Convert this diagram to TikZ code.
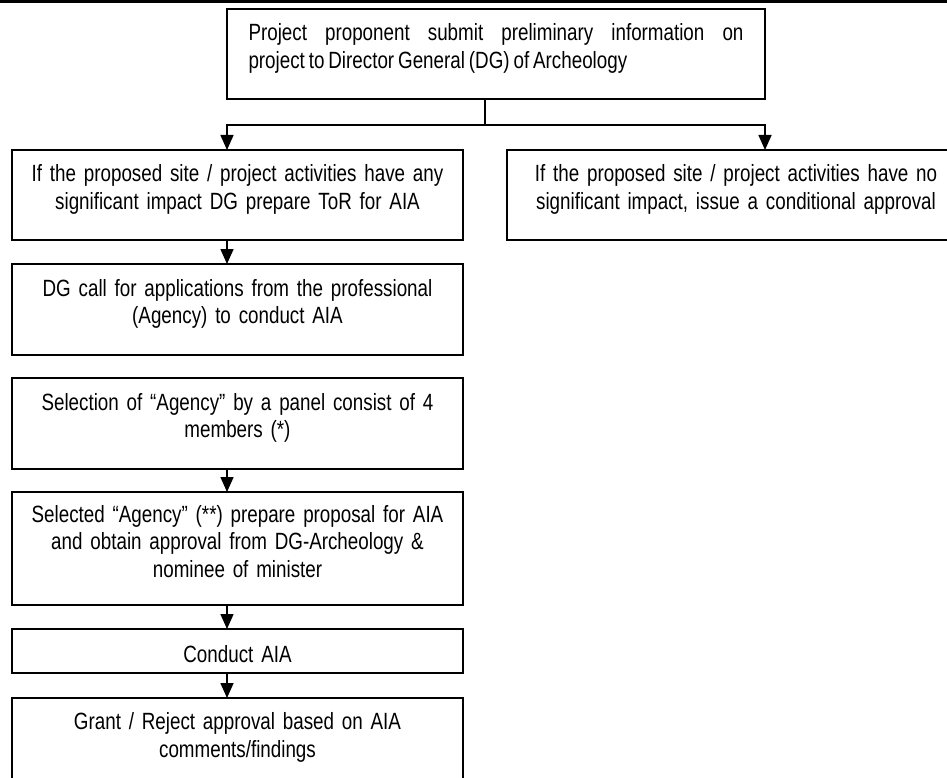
\documentclass[tikz,border=0pt]{standalone}
\usepackage{fontspec}
\setmainfont[FakeStretch=0.80, WordSpace=0.75]{Liberation Sans}
\usetikzlibrary{positioning,arrows.meta}

\begin{document}
\begin{tikzpicture}[
  x=1pt, y=-1pt,
  box/.style={draw, line width=1.8pt, inner sep=0pt, outer sep=0pt,
              minimum width=451pt, text width=440pt, align=center,
              font=\fontsize{23.5}{27.5}\selectfont},
  twolines/.style={text depth=44pt},
  threelines/.style={text depth=70pt},
  >={Triangle[length=15pt, width=13pt]},
  line width=1.6pt
]
  \useasboundingbox (0,0) rectangle (947,778);
  \draw[line width=3pt] (0,1.5) -- (947,1.5);

  \node[box, twolines, anchor=north west, minimum width=538pt, minimum height=90pt,
        text width=495pt, align=justify] (submit) at (227,9)
    {Project proponent submit preliminary information on\linebreak project to Director General (DG) of Archeology};

  \node[box, twolines, anchor=north west, minimum height=90pt] (ifsig) at (12,150)
    {If the proposed site / project activities have any\\significant impact DG prepare ToR for AIA};
  \node[box, twolines, right=44pt of ifsig, minimum width=458pt, minimum height=90pt] (nosig)
    {If the proposed site / project activities have no\\significant impact, issue a conditional approval};

  \node[box, twolines, below=24pt of ifsig, minimum height=91pt] (callapp)
    {DG call for applications from the professional\\(Agency) to conduct AIA};
  \node[box, twolines, below=23pt of callapp, minimum height=91pt] (select)
    {Selection of “Agency” by a panel consist of 4\\members (*)};
  \node[box, threelines, below=23pt of select, minimum height=113pt] (proposal)
    {Selected “Agency” (**) prepare proposal for AIA\\and obtain approval from DG-Archeology \&\\nominee of minister};
  \node[box, below=24pt of proposal, minimum height=44pt, text height=23pt] (conduct)
    {Conduct AIA};
  \node[box, twolines, below=25pt of conduct, minimum height=90pt] (grant)
    {Grant / Reject approval based on AIA\\comments/findings};

  \coordinate (split) at (485,125);
  \draw (submit.south -| split) -- (split);
  \draw[->] (split) -| (ifsig.north -| submit.west);
  \draw[->] (split) -| (nosig.north -| submit.east);
  \foreach \a/\b in {ifsig/callapp, select/proposal, proposal/conduct, conduct/grant}
    \draw[->] (\a.south -| submit.west) -- (\b.north -| submit.west);
\end{tikzpicture}
\end{document}
